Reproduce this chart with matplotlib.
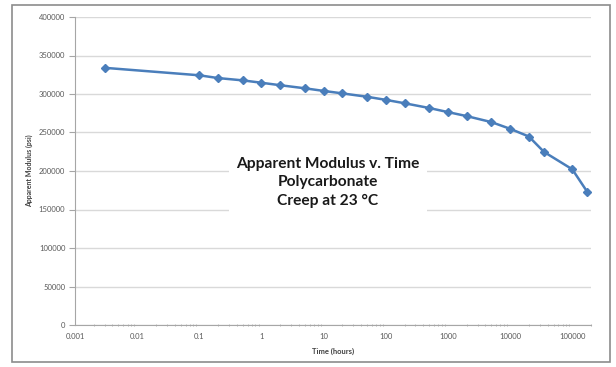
import matplotlib.pyplot as plt
from matplotlib.patches import Rectangle
from matplotlib.ticker import LogLocator, FixedLocator, NullFormatter

# creep data
time_h = [0.003, 0.1, 0.2, 0.5, 1, 2, 5, 10, 20, 50, 100, 200, 500,
          1000, 2000, 5000, 10000, 20000, 35040, 100000, 175200]
modulus = [334000, 324300, 320700, 317700, 314600, 311400, 307400, 304000,
           300800, 296400, 292400, 288000, 281800, 276500, 271300, 263500,
           254800, 244800, 224800, 202200, 172600]
y_ticks = [0, 50000, 100000, 150000, 200000, 250000, 300000, 350000, 400000]
x_ticks = [0.001, 0.01, 0.1, 1, 10, 100, 1000, 10000, 100000]
x_labels = ["0.001", "0.01", "0.1", "1", "10", "100", "1000", "10000", "100000"]

plt.rcParams['font.family'] = ['Lato', 'DejaVu Sans']

fig = plt.figure(figsize=(6.16, 3.67), dpi=100)
fig.patches.append(Rectangle((12 / 616, 5 / 367), 598 / 616, 357 / 367,
                             transform=fig.transFigure, fill=False,
                             edgecolor='#8c8c8c', linewidth=1.2))

ax = fig.add_axes([75 / 616, 42 / 367, 516 / 616, 308 / 367])
ax.set_xscale('log')
ax.set_xlim(0.001, 200000)
ax.set_ylim(0, 400000)

ax.yaxis.set_major_locator(FixedLocator(y_ticks))
ax.set_yticklabels([str(v) for v in y_ticks])
ax.xaxis.set_major_locator(FixedLocator(x_ticks))
ax.set_xticklabels(x_labels)
ax.xaxis.set_minor_locator(LogLocator(base=10, subs=range(2, 10), numticks=20))
ax.xaxis.set_minor_formatter(NullFormatter())

ax.grid(axis='y', color='#d9d9d9', linewidth=1)
ax.set_axisbelow(True)
for s in ['top', 'right']:
    ax.spines[s].set_visible(False)
for s in ['left', 'bottom']:
    ax.spines[s].set_color('#a6a6a6')
    ax.spines[s].set_linewidth(0.8)

ax.tick_params(axis='y', which='major', length=4, width=0.8, color='#a6a6a6',
               labelsize=5.5, labelcolor='#595959', pad=3)
ax.tick_params(axis='x', which='major', length=0, labelsize=5.5,
               labelcolor='#595959', pad=6)
ax.tick_params(axis='x', which='minor', length=2, width=0.6, color='#a6a6a6',
               direction='inout')

ax.plot(time_h, modulus, color='#4a7ebb', linewidth=1.8, marker='D',
        markersize=3.6, markerfacecolor='#4a7ebb', markeredgecolor='#4a7ebb')

ax.set_xlabel('Time (hours)', fontsize=5.5, fontweight='bold',
              color='#404040', labelpad=5)
ax.set_ylabel('Apparent Modulus (psi)', fontsize=5, fontweight='bold',
              color='#404040', labelpad=4)

fig.text(328 / 616, 1 - 182.5 / 367,
         'Apparent Modulus v. Time\nPolycarbonate\nCreep at 23 °C',
         ha='center', va='center', fontsize=11.2, fontweight='bold',
         color='#1a1a1a', linespacing=1.4,
         bbox=dict(facecolor='white', edgecolor='none', pad=5))

fig.savefig('out.png', dpi=100)
